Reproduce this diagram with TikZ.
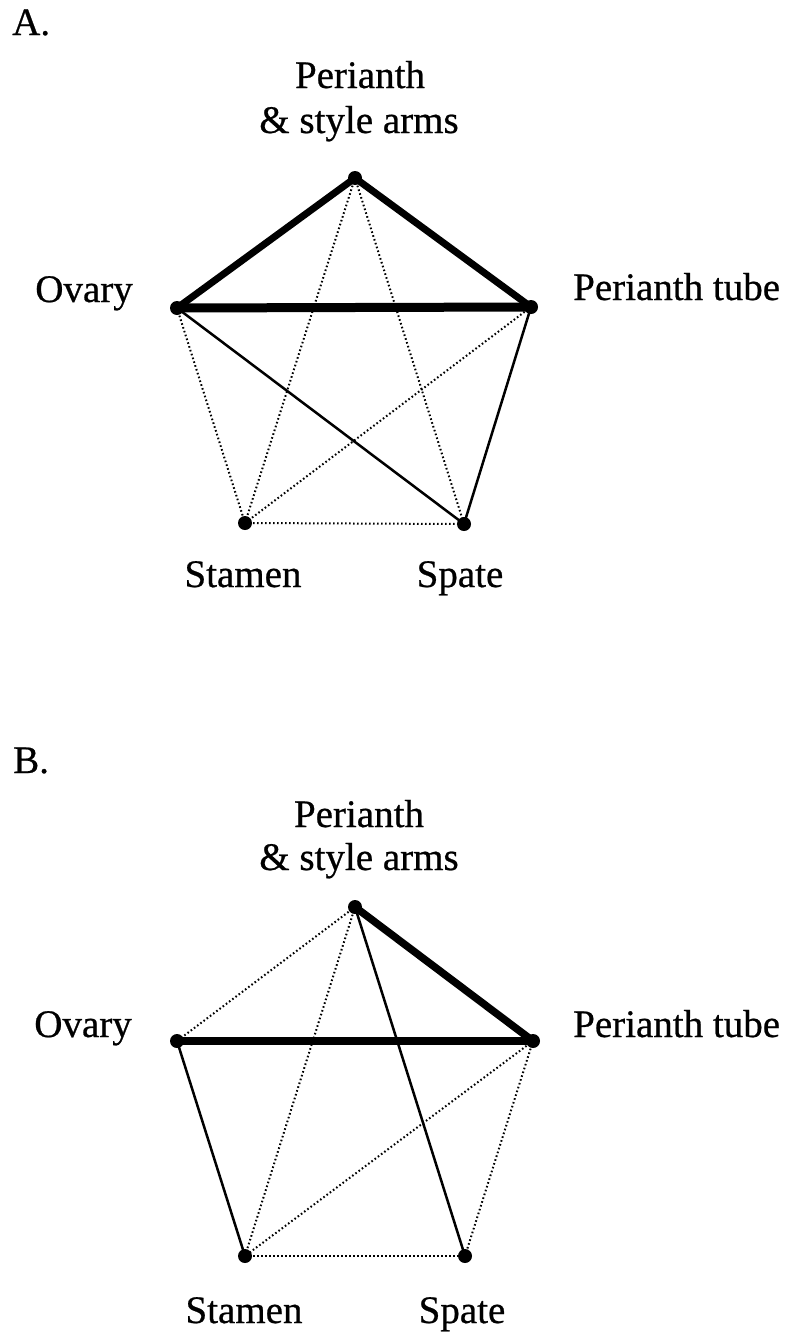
\documentclass[tikz,border=0pt]{standalone}
\usepackage{fontspec}
\setmainfont[FakeBold=0.6,BoldFont=Liberation Serif]{Liberation Serif}
\begin{document}
\begin{tikzpicture}[x=1pt,y=-1pt,
  vtx/.style={circle,fill=black,inner sep=0pt,minimum size=14pt},
  lbl/.style={anchor=base,inner sep=0pt,font=\fontsize{39}{45}\selectfont\bfseries},
  heavy/.style={line width=7pt,line cap=round},
  heavier/.style={line width=9pt,line cap=round},
  heavyB/.style={line width=7.5pt,line cap=round},
  thinline/.style={line width=2.5pt},
  dotline/.style={line width=2pt,dash pattern=on 1.6pt off 2.4pt}]
\useasboundingbox (0,0) rectangle (788,1333);
% ---------- A ----------
\node[lbl,anchor=base west] (labA) at (12,35) {A.};
\node[lbl] (tA1) at (360,88) {Perianth};
\node[lbl] (tA2) at (359,133) {\& style arms};
\node[lbl,anchor=base east] (oA) at (133,302) {Ovary};
\node[lbl,anchor=base west] (pA) at (573,300) {Perianth tube};
\node[lbl] (sA) at (243,587) {Stamen};
\node[lbl] (spA) at (460,587) {Spate};
\node[vtx] (TA) at (355,178) {};
\node[vtx] (OA) at (177,308) {};
\node[vtx] (PA) at (531,307) {};
\node[vtx] (SA) at (245,523) {};
\node[vtx] (XA) at (464,524) {};
\draw[heavy] (TA.center) -- (OA.center);
\draw[heavy] (TA.center) -- (PA.center);
\draw[heavier] (OA.center) -- (PA.center);
\draw[dotline] (TA.center) -- (SA.center);
\draw[dotline] (TA.center) -- (XA.center);
\draw[dotline] (OA.center) -- (SA.center);
\draw[thinline] (OA.center) -- (XA.center);
\draw[dotline] (PA.center) -- (SA.center);
\draw[thinline] (PA.center) -- (XA.center);
\draw[dotline] (SA.center) -- (XA.center);
% ---------- B ----------
\node[lbl,anchor=base west] (labB) at (13,773) {B.};
\node[lbl] (tB1) at (359,827) {Perianth};
\node[lbl] (tB2) at (359,870) {\& style arms};
\node[lbl,anchor=base east] (oB) at (132,1037) {Ovary};
\node[lbl,anchor=base west] (pB) at (573,1037) {Perianth tube};
\node[lbl] (sB) at (244,1323) {Stamen};
\node[lbl] (spB) at (462,1323) {Spate};
\node[vtx] (TB) at (355,907) {};
\node[vtx] (OB) at (177,1041) {};
\node[vtx] (PB) at (533,1041) {};
\node[vtx] (SB) at (245,1256) {};
\node[vtx] (XB) at (465,1256) {};
\draw[dotline] (TB.center) -- (OB.center);
\draw[heavyB] (TB.center) -- (PB.center);
\draw[heavyB] (OB.center) -- (PB.center);
\draw[dotline] (TB.center) -- (SB.center);
\draw[thinline] (TB.center) -- (XB.center);
\draw[thinline] (OB.center) -- (SB.center);
\draw[dotline] (PB.center) -- (SB.center);
\draw[dotline] (PB.center) -- (XB.center);
\draw[dotline] (SB.center) -- (XB.center);
\end{tikzpicture}
\end{document}
